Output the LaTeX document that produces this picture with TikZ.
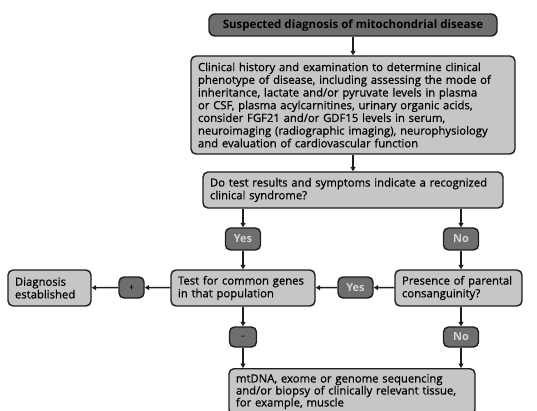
\documentclass[tikz,border=0pt]{standalone}
\usepackage{fontspec}
\setmainfont{Open Sans}[UprightFeatures={FakeBold=0.6}]
\usetikzlibrary{arrows.meta}
\definecolor{darkfill}{HTML}{6E6E6E}
\definecolor{lightfill}{HTML}{C6C6C6}
\definecolor{edge}{HTML}{1E1E1E}
\definecolor{badgetext}{HTML}{D4D4D4}
\tikzset{
  box/.style={draw=edge, line width=1.4pt, rounded corners=5pt, fill=lightfill,
    font=\fontsize{11.3}{12.7}\selectfont, align=left, inner xsep=7pt, inner ysep=3pt, anchor=center},
  topbox/.style={draw=edge, line width=1.4pt, rounded corners=6pt, fill=darkfill,
    font=\fontsize{11.5}{12.7}\selectfont\bfseries, text=black, inner sep=2pt},
  badge/.style={draw=edge, line width=1.4pt, rounded corners=5pt, fill=darkfill,
    font=\fontsize{11}{12.7}\selectfont\bfseries, text=badgetext, inner sep=1pt},
  conn/.style={draw=edge, line width=1.4pt, -{Triangle[length=4.5pt,width=5pt]}}
}
\begin{document}
\begin{tikzpicture}[x=1pt,y=-1pt]
\useasboundingbox (0,0) rectangle (537,411);
\node[topbox, minimum width=288pt, minimum height=22pt] (top) at (353,25) {Suspected diagnosis of mitochondrial disease};
\node[box, minimum width=324pt, minimum height=98pt, text width=310pt] (clin) at (353,105) {Clinical history and examination to determine clinical\\phenotype of disease, including assessing the mode of\\inheritance, lactate and/or pyruvate levels in plasma\\or CSF, plasma acylcarnitines, urinary organic acids,\\consider FGF21 and/or GDF15 levels in serum,\\neuroimaging (radiographic imaging), neurophysiology\\and evaluation of cardiovascular function};
\node[box, minimum width=300pt, minimum height=36pt, text width=286pt] (q) at (353,190) {Do test results and symptoms indicate a recognized\\clinical syndrome?};
\node[badge, minimum width=35pt, minimum height=22pt] (yes1) at (243,239) {Yes};
\node[badge, minimum width=35pt, minimum height=22pt] (no1) at (461,239) {No};
\node[box, minimum width=83pt, minimum height=36pt, text width=69pt] (diag) at (49.5,288) {Diagnosis\\established};
\node[badge, minimum width=25pt, minimum height=21pt, text=black, font=\fontsize{8}{8}\selectfont] (plus) at (131.5,287.5) {+};
\node[box, minimum width=144pt, minimum height=36pt, text width=130pt] (test) at (243,288) {Test for common genes\\in that population};
\node[badge, minimum width=35pt, minimum height=21pt] (yes2) at (355.5,287.5) {Yes};
\node[box, minimum width=127pt, minimum height=36pt, text width=113pt] (pres) at (458.5,288) {Presence of parental\\consanguinity?};
\node[badge, minimum width=27pt, minimum height=20pt, text=black, font=\fontsize{8}{8}\selectfont] (minus) at (243,337) {--};
\node[badge, minimum width=35pt, minimum height=20pt] (no2) at (461,337) {No};
\node[box, minimum width=246pt, minimum height=46pt, text width=232pt, anchor=north, inner ysep=4pt, font=\fontsize{11.3}{12}\selectfont] (bot) at (352,368) {mtDNA, exome or genome sequencing\\and/or biopsy of clinically relevant tissue,\\for example, muscle};
\draw[conn] (top) -- (clin);
\draw[conn] (clin) -- (q);
\draw[conn] (q.south -| yes1) -- (yes1);
\draw[conn] (yes1) -- (test);
\draw[conn] (q.south -| no1) -- (no1);
\draw[conn] (no1) -- (pres.north -| no1);
\draw[conn] (pres) -- (yes2);
\draw[conn] (yes2) -- (test);
\draw[conn] (test) -- (plus);
\draw[conn] (plus) -- (diag);
\draw[conn] (test.south -| minus) -- (minus);
\draw[conn] (minus) -- (bot.north -| minus);
\draw[conn] (pres.south -| no2) -- (no2);
\draw[conn] (no2) -- (bot.north -| no2);
\end{tikzpicture}
\end{document}
